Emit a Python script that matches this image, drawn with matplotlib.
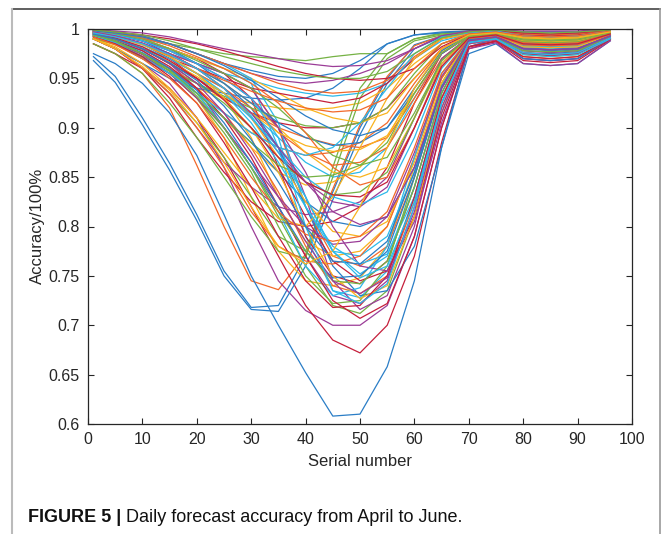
import matplotlib
matplotlib.use("Agg")
import matplotlib.pyplot as plt
from matplotlib.lines import Line2D

# sampled serial numbers (15-min slots of a day)
serial = [1, 5, 10, 15, 20, 25, 30, 35, 40, 45, 50, 55, 60, 65, 70, 75, 80, 85, 90, 96]

# daily forecast accuracy, one row per day
accuracy = [
    [0.972, 0.952, 0.91, 0.864, 0.812, 0.755, 0.718, 0.72, 0.77, 0.835, 0.9, 0.95, 0.984, 0.993, 0.994, 0.99, 0.976, 0.975, 0.977, 0.991],
    [0.985, 0.975, 0.955, 0.92, 0.862, 0.8, 0.745, 0.736, 0.772, 0.838, 0.903, 0.952, 0.983, 0.993, 0.996, 0.997, 0.991, 0.99, 0.991, 0.997],
    [0.99, 0.984, 0.972, 0.955, 0.93, 0.89, 0.83, 0.775, 0.745, 0.74, 0.748, 0.78, 0.86, 0.945, 0.99, 0.994, 0.988, 0.987, 0.988, 0.995],
    [0.99, 0.98, 0.965, 0.945, 0.91, 0.86, 0.8, 0.745, 0.715, 0.7, 0.7, 0.72, 0.79, 0.9, 0.982, 0.99, 0.981, 0.979, 0.981, 0.993],
    [0.998, 0.996, 0.99, 0.985, 0.98, 0.975, 0.972, 0.97, 0.968, 0.972, 0.975, 0.975, 0.99, 0.996, 0.998, 0.999, 0.996, 0.995, 0.996, 0.999],
    [0.995, 0.99, 0.98, 0.965, 0.95, 0.935, 0.915, 0.89, 0.865, 0.85, 0.855, 0.88, 0.93, 0.975, 0.993, 0.995, 0.987, 0.986, 0.987, 0.995],
    [0.985, 0.975, 0.96, 0.94, 0.91, 0.87, 0.82, 0.77, 0.72, 0.685, 0.672, 0.7, 0.77, 0.885, 0.98, 0.988, 0.97, 0.968, 0.97, 0.99],
    [0.968, 0.946, 0.903, 0.857, 0.806, 0.75, 0.716, 0.714, 0.76, 0.827, 0.893, 0.945, 0.98, 0.992, 0.995, 0.991, 0.978, 0.977, 0.979, 0.992],
    [0.997, 0.993, 0.985, 0.975, 0.965, 0.955, 0.94, 0.9, 0.82, 0.77, 0.76, 0.78, 0.85, 0.94, 0.99, 0.994, 0.986, 0.985, 0.986, 0.995],
    [0.993, 0.985, 0.97, 0.955, 0.94, 0.93, 0.925, 0.92, 0.918, 0.92, 0.925, 0.94, 0.965, 0.985, 0.994, 0.996, 0.992, 0.991, 0.992, 0.997],
    [0.995, 0.99, 0.98, 0.965, 0.94, 0.9, 0.86, 0.82, 0.77, 0.73, 0.722, 0.745, 0.82, 0.925, 0.988, 0.992, 0.978, 0.976, 0.978, 0.992],
    [0.99, 0.98, 0.96, 0.935, 0.905, 0.87, 0.83, 0.79, 0.775, 0.85, 0.93, 0.97, 0.988, 0.994, 0.997, 0.998, 0.994, 0.993, 0.994, 0.998],
    [0.998, 0.995, 0.99, 0.98, 0.97, 0.96, 0.945, 0.88, 0.79, 0.735, 0.728, 0.755, 0.83, 0.93, 0.988, 0.991, 0.975, 0.973, 0.975, 0.99],
    [0.99, 0.98, 0.96, 0.93, 0.89, 0.855, 0.825, 0.805, 0.8, 0.805, 0.82, 0.86, 0.925, 0.975, 0.993, 0.995, 0.985, 0.984, 0.985, 0.995],
    [0.975, 0.965, 0.945, 0.915, 0.872, 0.812, 0.75, 0.7, 0.652, 0.608, 0.61, 0.658, 0.745, 0.88, 0.982, 0.99, 0.98, 0.978, 0.98, 0.993],
    [0.992, 0.985, 0.975, 0.96, 0.945, 0.93, 0.915, 0.9, 0.89, 0.883, 0.88, 0.89, 0.93, 0.975, 0.993, 0.996, 0.99, 0.989, 0.99, 0.996],
    [0.995, 0.99, 0.98, 0.965, 0.95, 0.93, 0.89, 0.83, 0.785, 0.77, 0.775, 0.8, 0.87, 0.95, 0.99, 0.993, 0.984, 0.983, 0.984, 0.994],
    [0.997, 0.993, 0.985, 0.975, 0.96, 0.94, 0.91, 0.875, 0.845, 0.825, 0.82, 0.84, 0.9, 0.965, 0.992, 0.995, 0.988, 0.987, 0.988, 0.996],
    [0.99, 0.985, 0.975, 0.96, 0.935, 0.9, 0.86, 0.81, 0.76, 0.72, 0.712, 0.735, 0.81, 0.915, 0.985, 0.99, 0.976, 0.974, 0.976, 0.991],
    [0.997, 0.994, 0.988, 0.978, 0.965, 0.955, 0.948, 0.94, 0.935, 0.932, 0.935, 0.945, 0.97, 0.988, 0.995, 0.997, 0.993, 0.992, 0.993, 0.998],
    [0.997, 0.994, 0.988, 0.98, 0.97, 0.955, 0.93, 0.86, 0.79, 0.75, 0.742, 0.765, 0.84, 0.935, 0.99, 0.993, 0.982, 0.981, 0.982, 0.994],
    [0.99, 0.98, 0.965, 0.95, 0.94, 0.935, 0.93, 0.928, 0.93, 0.94, 0.96, 0.985, 0.994, 0.996, 0.997, 0.998, 0.995, 0.994, 0.995, 0.998],
    [0.993, 0.988, 0.978, 0.96, 0.94, 0.915, 0.88, 0.835, 0.78, 0.74, 0.732, 0.75, 0.825, 0.93, 0.988, 0.99, 0.972, 0.97, 0.972, 0.99],
    [0.992, 0.985, 0.97, 0.955, 0.935, 0.91, 0.88, 0.855, 0.842, 0.845, 0.86, 0.89, 0.94, 0.978, 0.994, 0.996, 0.991, 0.99, 0.991, 0.997],
    [0.996, 0.992, 0.985, 0.975, 0.965, 0.955, 0.94, 0.9, 0.83, 0.745, 0.716, 0.73, 0.8, 0.915, 0.985, 0.989, 0.97, 0.968, 0.97, 0.99],
    [0.985, 0.975, 0.955, 0.925, 0.89, 0.85, 0.81, 0.775, 0.768, 0.86, 0.94, 0.975, 0.99, 0.995, 0.997, 0.998, 0.993, 0.992, 0.993, 0.998],
    [0.995, 0.99, 0.98, 0.97, 0.955, 0.94, 0.915, 0.88, 0.83, 0.775, 0.752, 0.77, 0.84, 0.935, 0.989, 0.992, 0.98, 0.979, 0.98, 0.993],
    [0.995, 0.99, 0.98, 0.965, 0.95, 0.93, 0.915, 0.905, 0.9, 0.9, 0.905, 0.92, 0.95, 0.98, 0.994, 0.996, 0.99, 0.989, 0.99, 0.996],
    [0.998, 0.995, 0.99, 0.98, 0.965, 0.945, 0.92, 0.88, 0.82, 0.76, 0.73, 0.735, 0.78, 0.88, 0.975, 0.985, 0.965, 0.963, 0.965, 0.988],
    [0.997, 0.993, 0.985, 0.97, 0.955, 0.94, 0.92, 0.895, 0.875, 0.862, 0.865, 0.88, 0.925, 0.97, 0.992, 0.995, 0.988, 0.987, 0.988, 0.996],
    [0.998, 0.995, 0.99, 0.98, 0.97, 0.96, 0.95, 0.935, 0.92, 0.91, 0.905, 0.915, 0.95, 0.98, 0.994, 0.996, 0.99, 0.989, 0.99, 0.997],
    [0.99, 0.98, 0.96, 0.935, 0.9, 0.865, 0.84, 0.82, 0.812, 0.815, 0.825, 0.85, 0.91, 0.97, 0.992, 0.995, 0.985, 0.984, 0.985, 0.995],
    [0.992, 0.985, 0.972, 0.955, 0.93, 0.895, 0.855, 0.8, 0.75, 0.722, 0.725, 0.76, 0.85, 0.945, 0.99, 0.993, 0.983, 0.982, 0.983, 0.994],
    [0.998, 0.996, 0.99, 0.985, 0.975, 0.965, 0.95, 0.905, 0.82, 0.775, 0.77, 0.79, 0.855, 0.94, 0.99, 0.993, 0.982, 0.98, 0.982, 0.994],
    [0.996, 0.99, 0.98, 0.97, 0.96, 0.95, 0.94, 0.935, 0.93, 0.925, 0.93, 0.945, 0.97, 0.99, 0.996, 0.998, 0.994, 0.993, 0.994, 0.999],
    [0.993, 0.985, 0.97, 0.955, 0.935, 0.91, 0.885, 0.855, 0.825, 0.805, 0.8, 0.81, 0.86, 0.94, 0.988, 0.99, 0.97, 0.968, 0.97, 0.99],
    [0.99, 0.98, 0.96, 0.935, 0.9, 0.86, 0.815, 0.78, 0.765, 0.762, 0.77, 0.8, 0.87, 0.95, 0.99, 0.993, 0.984, 0.983, 0.984, 0.994],
    [0.997, 0.993, 0.985, 0.975, 0.96, 0.945, 0.925, 0.9, 0.875, 0.855, 0.85, 0.86, 0.91, 0.965, 0.992, 0.995, 0.988, 0.987, 0.988, 0.996],
    [0.999, 0.997, 0.993, 0.985, 0.975, 0.965, 0.955, 0.948, 0.945, 0.948, 0.955, 0.965, 0.98, 0.993, 0.997, 0.999, 0.997, 0.997, 0.997, 0.999],
    [0.995, 0.99, 0.98, 0.965, 0.945, 0.925, 0.9, 0.87, 0.845, 0.832, 0.835, 0.855, 0.91, 0.968, 0.992, 0.995, 0.987, 0.986, 0.987, 0.995],
    [0.994, 0.988, 0.978, 0.96, 0.935, 0.9, 0.86, 0.815, 0.76, 0.73, 0.738, 0.78, 0.87, 0.955, 0.99, 0.993, 0.983, 0.982, 0.983, 0.994],
    [0.996, 0.992, 0.985, 0.97, 0.95, 0.93, 0.9, 0.86, 0.81, 0.765, 0.745, 0.755, 0.81, 0.91, 0.982, 0.987, 0.968, 0.966, 0.968, 0.989],
    [0.999, 0.997, 0.993, 0.985, 0.975, 0.965, 0.958, 0.952, 0.95, 0.955, 0.968, 0.985, 0.994, 0.997, 0.998, 0.999, 0.997, 0.997, 0.997, 0.999],
    [0.994, 0.988, 0.975, 0.96, 0.94, 0.915, 0.895, 0.88, 0.872, 0.875, 0.885, 0.905, 0.945, 0.98, 0.994, 0.996, 0.991, 0.99, 0.991, 0.997],
    [0.996, 0.992, 0.985, 0.975, 0.96, 0.94, 0.91, 0.87, 0.825, 0.795, 0.79, 0.805, 0.865, 0.945, 0.99, 0.993, 0.982, 0.981, 0.982, 0.994],
    [0.997, 0.994, 0.988, 0.978, 0.965, 0.95, 0.93, 0.9, 0.855, 0.8, 0.76, 0.755, 0.805, 0.905, 0.98, 0.986, 0.965, 0.963, 0.965, 0.988],
    [0.993, 0.985, 0.972, 0.958, 0.945, 0.932, 0.92, 0.91, 0.902, 0.9, 0.905, 0.92, 0.955, 0.985, 0.995, 0.997, 0.992, 0.991, 0.992, 0.997],
    [0.996, 0.992, 0.984, 0.972, 0.955, 0.935, 0.91, 0.88, 0.85, 0.83, 0.822, 0.835, 0.89, 0.96, 0.991, 0.994, 0.985, 0.984, 0.985, 0.995],
    [0.994, 0.988, 0.978, 0.962, 0.94, 0.91, 0.87, 0.82, 0.77, 0.725, 0.707, 0.722, 0.79, 0.9, 0.982, 0.988, 0.972, 0.97, 0.972, 0.99],
    [0.998, 0.995, 0.988, 0.975, 0.96, 0.945, 0.925, 0.905, 0.89, 0.882, 0.885, 0.9, 0.94, 0.978, 0.994, 0.996, 0.99, 0.989, 0.99, 0.996],
    [0.999, 0.997, 0.992, 0.985, 0.975, 0.965, 0.955, 0.945, 0.938, 0.935, 0.937, 0.948, 0.972, 0.99, 0.996, 0.998, 0.995, 0.994, 0.995, 0.999],
    [0.99, 0.982, 0.965, 0.94, 0.91, 0.875, 0.84, 0.808, 0.8, 0.83, 0.88, 0.93, 0.97, 0.99, 0.995, 0.997, 0.992, 0.991, 0.992, 0.997],
    [0.993, 0.986, 0.974, 0.955, 0.93, 0.9, 0.865, 0.83, 0.8, 0.782, 0.785, 0.81, 0.875, 0.952, 0.99, 0.993, 0.98, 0.979, 0.98, 0.993],
    [0.998, 0.995, 0.99, 0.98, 0.968, 0.955, 0.94, 0.92, 0.895, 0.872, 0.862, 0.87, 0.915, 0.968, 0.992, 0.995, 0.989, 0.988, 0.989, 0.996],
    [0.995, 0.99, 0.982, 0.97, 0.955, 0.935, 0.905, 0.865, 0.82, 0.78, 0.762, 0.772, 0.83, 0.925, 0.986, 0.99, 0.975, 0.973, 0.975, 0.991],
    [0.999, 0.997, 0.994, 0.99, 0.985, 0.978, 0.97, 0.962, 0.955, 0.95, 0.948, 0.95, 0.96, 0.982, 0.995, 0.998, 0.996, 0.995, 0.996, 0.999],
    [0.994, 0.988, 0.976, 0.96, 0.938, 0.905, 0.865, 0.82, 0.775, 0.748, 0.75, 0.775, 0.85, 0.94, 0.989, 0.992, 0.98, 0.979, 0.98, 0.993],
    [0.998, 0.996, 0.991, 0.983, 0.972, 0.96, 0.945, 0.925, 0.895, 0.86, 0.842, 0.85, 0.9, 0.962, 0.991, 0.994, 0.986, 0.985, 0.986, 0.995],
    [0.996, 0.992, 0.984, 0.972, 0.955, 0.93, 0.9, 0.855, 0.8, 0.75, 0.727, 0.74, 0.81, 0.92, 0.985, 0.99, 0.974, 0.972, 0.974, 0.991],
    [0.999, 0.998, 0.996, 0.992, 0.986, 0.98, 0.975, 0.97, 0.965, 0.962, 0.963, 0.968, 0.98, 0.993, 0.998, 0.999, 0.998, 0.998, 0.998, 1.0],
    [0.993, 0.987, 0.975, 0.957, 0.932, 0.9, 0.86, 0.815, 0.775, 0.745, 0.742, 0.765, 0.84, 0.935, 0.988, 0.991, 0.978, 0.977, 0.978, 0.992],
    [0.993, 0.986, 0.972, 0.955, 0.935, 0.915, 0.895, 0.88, 0.872, 0.88, 0.905, 0.94, 0.975, 0.992, 0.996, 0.998, 0.993, 0.992, 0.993, 0.998],
    [0.992, 0.985, 0.972, 0.952, 0.925, 0.885, 0.84, 0.79, 0.745, 0.718, 0.72, 0.75, 0.83, 0.93, 0.987, 0.99, 0.975, 0.973, 0.975, 0.991],
    [0.998, 0.996, 0.992, 0.985, 0.975, 0.963, 0.948, 0.93, 0.912, 0.898, 0.892, 0.9, 0.935, 0.975, 0.993, 0.996, 0.99, 0.989, 0.99, 0.996],
    [0.992, 0.984, 0.97, 0.95, 0.925, 0.89, 0.85, 0.815, 0.792, 0.785, 0.79, 0.815, 0.88, 0.955, 0.99, 0.993, 0.984, 0.983, 0.984, 0.994],
    [0.996, 0.99, 0.98, 0.967, 0.952, 0.935, 0.915, 0.895, 0.882, 0.876, 0.878, 0.892, 0.935, 0.976, 0.993, 0.996, 0.99, 0.989, 0.99, 0.996],
    [0.995, 0.99, 0.98, 0.965, 0.945, 0.915, 0.875, 0.83, 0.785, 0.745, 0.732, 0.748, 0.815, 0.92, 0.985, 0.99, 0.976, 0.974, 0.976, 0.991],
    [0.994, 0.988, 0.975, 0.958, 0.935, 0.91, 0.885, 0.862, 0.85, 0.852, 0.862, 0.885, 0.935, 0.976, 0.993, 0.996, 0.99, 0.989, 0.99, 0.996],
    [0.997, 0.994, 0.988, 0.978, 0.965, 0.95, 0.93, 0.89, 0.8, 0.735, 0.722, 0.742, 0.82, 0.925, 0.987, 0.99, 0.974, 0.972, 0.974, 0.99],
    [0.996, 0.991, 0.982, 0.968, 0.95, 0.928, 0.9, 0.87, 0.845, 0.832, 0.83, 0.845, 0.9, 0.962, 0.991, 0.994, 0.985, 0.984, 0.985, 0.995],
    [0.995, 0.99, 0.98, 0.966, 0.948, 0.922, 0.888, 0.845, 0.8, 0.765, 0.762, 0.785, 0.855, 0.942, 0.989, 0.992, 0.98, 0.979, 0.98, 0.993],
    [0.997, 0.993, 0.985, 0.973, 0.96, 0.948, 0.937, 0.927, 0.92, 0.916, 0.918, 0.93, 0.96, 0.985, 0.995, 0.997, 0.993, 0.992, 0.993, 0.998],
    [0.99, 0.98, 0.962, 0.938, 0.905, 0.865, 0.82, 0.78, 0.762, 0.775, 0.82, 0.88, 0.94, 0.98, 0.994, 0.996, 0.991, 0.99, 0.991, 0.997],
    [0.997, 0.993, 0.986, 0.975, 0.96, 0.94, 0.915, 0.88, 0.845, 0.815, 0.802, 0.81, 0.86, 0.94, 0.988, 0.992, 0.98, 0.979, 0.98, 0.993],
    [0.999, 0.997, 0.994, 0.988, 0.98, 0.972, 0.965, 0.958, 0.953, 0.95, 0.95, 0.957, 0.975, 0.991, 0.997, 0.999, 0.997, 0.996, 0.997, 0.999],
    [0.996, 0.992, 0.985, 0.974, 0.96, 0.94, 0.912, 0.875, 0.83, 0.775, 0.748, 0.76, 0.825, 0.925, 0.986, 0.99, 0.976, 0.974, 0.976, 0.991],
]

x_ticks = list(range(0, 101, 10))
y_ticks = [0.6, 0.65, 0.7, 0.75, 0.8, 0.85, 0.9, 0.95, 1.0]
y_labels = ['0.6', '0.65', '0.7', '0.75', '0.8', '0.85', '0.9', '0.95', '1']

# matlab-like colour order
colors = ['#2a7dc6', '#f2692a', '#f9b31e', '#9b3c97', '#75b244', '#2cb9ea', '#c51f3b']

plt.rcParams['font.family'] = ['Liberation Sans', 'DejaVu Sans']
ink = '#262626'

fig = plt.figure(figsize=(6.65, 5.34), dpi=100)
ax = fig.add_axes([88 / 665, 1 - 424 / 534, 544 / 665, 395 / 534])

for i, day in enumerate(accuracy):
    ax.plot(serial, day, color=colors[i % len(colors)], lw=0.9)

ax.set_xlim(0, 100)
ax.set_ylim(0.6, 1)
ax.set_xticks(x_ticks)
ax.set_yticks(y_ticks)
ax.set_yticklabels(y_labels)
ax.tick_params(direction='in', top=True, right=True, length=4.5, width=0.8,
               color=ink, labelcolor=ink, labelsize=11.5)
ax.tick_params(axis='x', pad=6)
ax.tick_params(axis='y', pad=6)
for s in ax.spines.values():
    s.set_color(ink)
    s.set_linewidth(0.9)

ax.set_xlabel('Serial number', fontsize=12, color=ink, labelpad=5)
fig.text(37 / 665, 1 - 226 / 534, 'Accuracy/100%', rotation=90, fontsize=12,
         color=ink, ha='center', va='center')

# caption
cap_y = 1 - 517 / 534
t1 = fig.text(28 / 665, cap_y, 'FIGURE 5 |', fontsize=13, fontweight='bold',
              ha='left', va='center', color='#111111')
fig.canvas.draw()
bb = t1.get_window_extent()
fig.text((bb.x1 + 5) / 665, cap_y, 'Daily forecast accuracy from April to June.',
         fontsize=13, ha='left', va='center', color='#111111')

# frame round the figure panel
fig.add_artist(Line2D([12 / 665, 660 / 665], [1 - 9 / 534, 1 - 9 / 534],
                      transform=fig.transFigure, color='#444444', lw=1.2))
fig.add_artist(Line2D([12 / 665, 12 / 665], [0, 1 - 9 / 534],
                      transform=fig.transFigure, color='#bbbbbb', lw=1.5))
fig.add_artist(Line2D([660 / 665, 660 / 665], [0, 1 - 9 / 534],
                      transform=fig.transFigure, color='#999999', lw=1.2))

fig.savefig('out.png', dpi=100)
